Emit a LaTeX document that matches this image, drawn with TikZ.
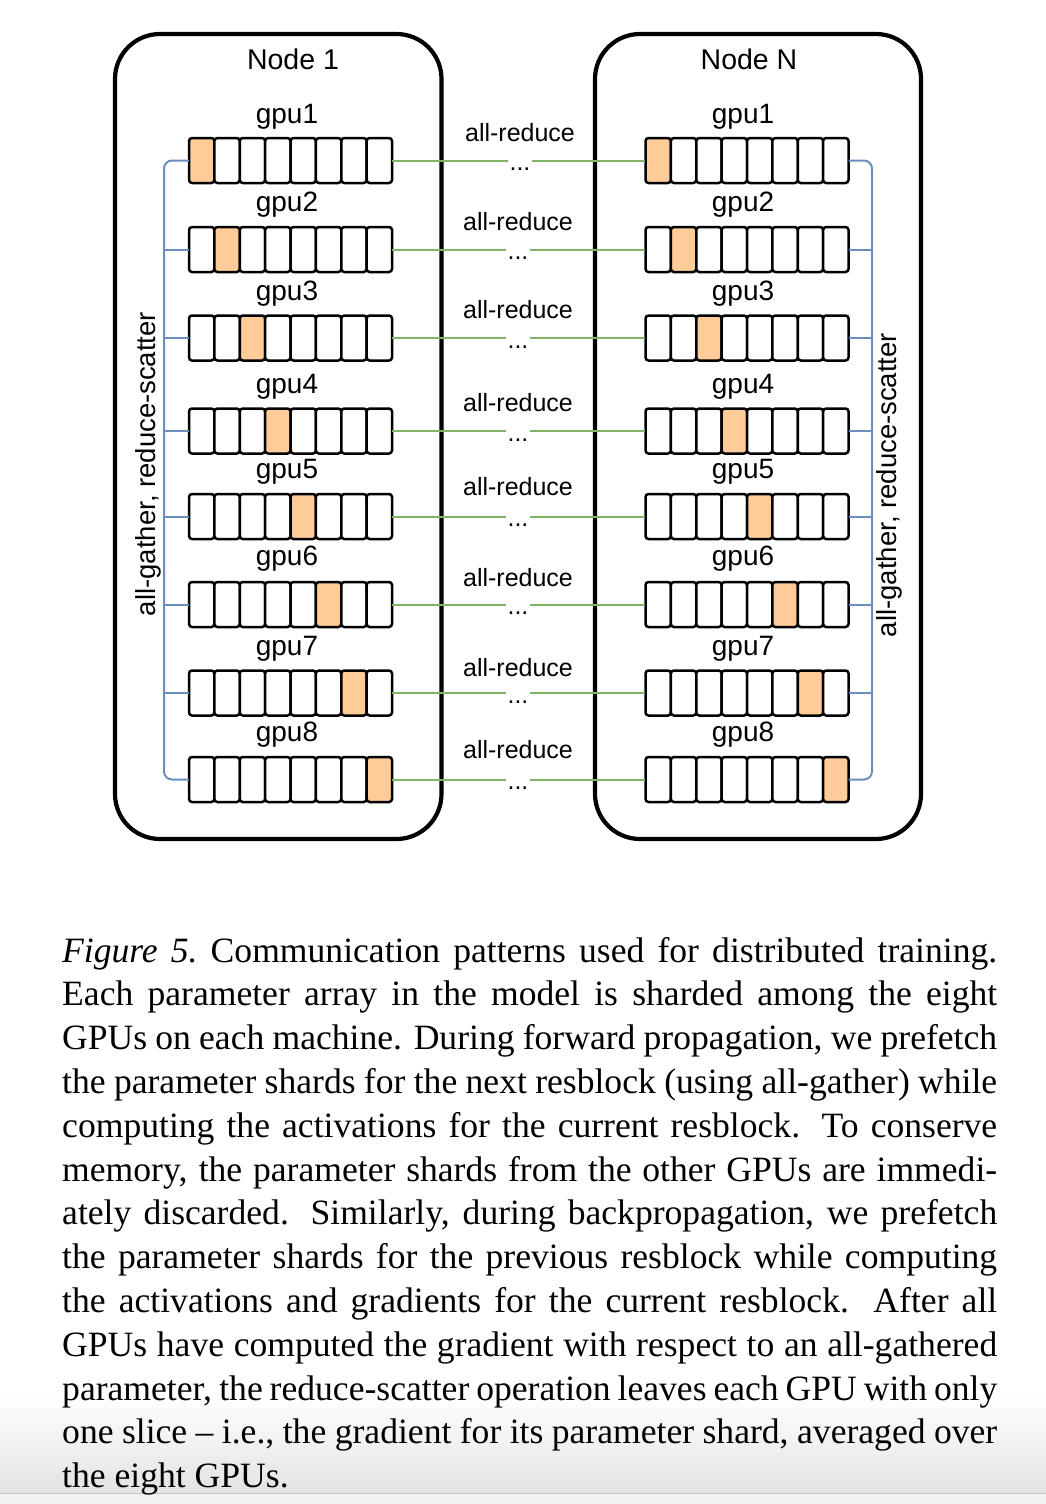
\documentclass[tikz,border=0pt]{standalone}
\usepackage{fontspec}
\setmainfont{Liberation Serif}
\newfontfamily\diagfont{Liberation Sans}
\definecolor{busblue}{HTML}{6C8EBF}
\definecolor{argreen}{HTML}{82B366}
\definecolor{shard}{HTML}{FFCC99}
\begin{document}
\begin{tikzpicture}[x=1pt,y=-1pt,
  nodebox/.style={draw, line width=4.2pt, rounded corners=45pt, inner sep=0pt},
  titlelbl/.style={font=\diagfont\fontsize{28.5}{32}\selectfont, inner sep=0pt},
  gpulbl/.style={font=\diagfont\fontsize{28}{32}\selectfont, inner sep=0pt},
  arlbl/.style={font=\diagfont\fontsize{25}{30}\selectfont, inner sep=0pt},
  dotlbl/.style={font=\diagfont\fontsize{25}{30}\selectfont, inner sep=0pt, anchor=base},
  sidelbl/.style={font=\diagfont\fontsize{27.5}{32}\selectfont, inner sep=0pt, rotate=90},
  arrbox/.style={minimum width=203pt, minimum height=45pt, inner sep=0pt},
  cellbox/.style={draw, line width=2.5pt, rounded corners=3pt},
  gapnode/.style={minimum width=24pt, minimum height=0pt, inner sep=0pt},
  bus/.style={draw=busblue, line width=2pt},
  arline/.style={draw=argreen, line width=2pt}]
\useasboundingbox (0,0) rectangle (1046,1504);
% screenshot bottom shading
\shade[top color=white, bottom color=black!11] (0,1395) rectangle (1046,1493);
\fill[black!5] (0,1493) rectangle (1046,1504);
\draw[black!22, line width=1pt] (0,1493.5) -- (1046,1493.5);
% node boxes
\node[nodebox, minimum width=326.5pt, minimum height=805pt] (n1) at (278.25,436.5) {};
\node[nodebox, minimum width=326pt, minimum height=805pt] (nN) at (758,436.5) {};
\node[titlelbl] (t1) at (293,59) {Node 1};
\node[titlelbl] (tN) at (749,59) {Node N};
% rows
\foreach \r/\y/\gy/\ay/\ax in {1/160.5/117/133/520, 2/249.5/205/222/518, 3/338/294/310/518, 4/431/387/403/518, 5/516.5/472/487/518, 6/604.5/559/578/518, 7/693/649/668/518, 8/779.5/735/750/518}{
  \node[arrbox] (L\r) at (290.5,\y) {};
  \node[arrbox] (R\r) at (747,\y) {};
  \foreach \c in {1,...,8}{
    \ifnum\c=\r \def\cf{shard}\else\def\cf{white}\fi
    \pgfmathsetmacro\lx{189+(\c-1)*25.375}
    \pgfmathsetmacro\rx{645.5+(\c-1)*25.375}
    \draw[cellbox, fill=\cf] (\lx,\y-22.5) rectangle ++(25.375,45);
    \draw[cellbox, fill=\cf] (\rx,\y-22.5) rectangle ++(25.375,45);
  }
  \node[gpulbl] (lg\r) at (287,\gy) {gpu\r};
  \node[gpulbl] (rg\r) at (743,\gy) {gpu\r};
  \node[arlbl] (a\r) at (\ax,\ay) {all-reduce};
  \node[gapnode] (g\r) at (\ax,\y) {};
  \node[dotlbl] (d\r) at (\ax,\y+10) {...};
  \draw[arline] (L\r.east) -- (g\r.west);
  \draw[arline] (g\r.east) -- (R\r.west);
}
% buses
\draw[bus, rounded corners=8pt] (L1.west) -| (164,470) |- (L8.west);
\draw[bus, rounded corners=8pt] (R1.east) -| (872,470) |- (R8.east);
\foreach \r/\y in {2/249.5,3/338,4/431,5/516.5,6/604.5,7/693}{
  \draw[bus] (L\r.west) -- (164,\y);
  \draw[bus] (R\r.east) -- (872,\y);
}
\node[sidelbl] (sl) at (148,464) {all-gather, reduce-scatter};
\node[sidelbl] (sr) at (889,485) {all-gather, reduce-scatter};
% caption
\node[anchor=base west, inner sep=0pt] (cap) at (62,962) {\parbox[t]{935pt}{\fontsize{35.6}{43.8}\selectfont\setlength{\parindent}{0pt}%
\makebox[935pt][s]{\textit{Figure 5.}\ Communication patterns used for distributed training.}\\
\makebox[935pt][s]{Each parameter array in the model is sharded among the eight}\\
\makebox[935pt][s]{GPUs on each machine. During forward propagation, we prefetch}\\
\makebox[935pt][s]{the parameter shards for the next resblock (using all-gather) while}\\
\makebox[935pt][s]{computing the activations for the current resblock. To conserve}\\
\makebox[935pt][s]{memory, the parameter shards from the other GPUs are immedi-}\\
\makebox[935pt][s]{ately discarded. Similarly, during backpropagation, we prefetch}\\
\makebox[935pt][s]{the parameter shards for the previous resblock while computing}\\
\makebox[935pt][s]{the activations and gradients for the current resblock. After all}\\
\makebox[935pt][s]{GPUs have computed the gradient with respect to an all-gathered}\\
\makebox[935pt][s]{parameter, the reduce-scatter operation leaves each GPU with only}\\
\makebox[935pt][s]{one slice -- i.e., the gradient for its parameter shard, averaged over}\\
the eight GPUs.}};
\end{tikzpicture}
\end{document}
